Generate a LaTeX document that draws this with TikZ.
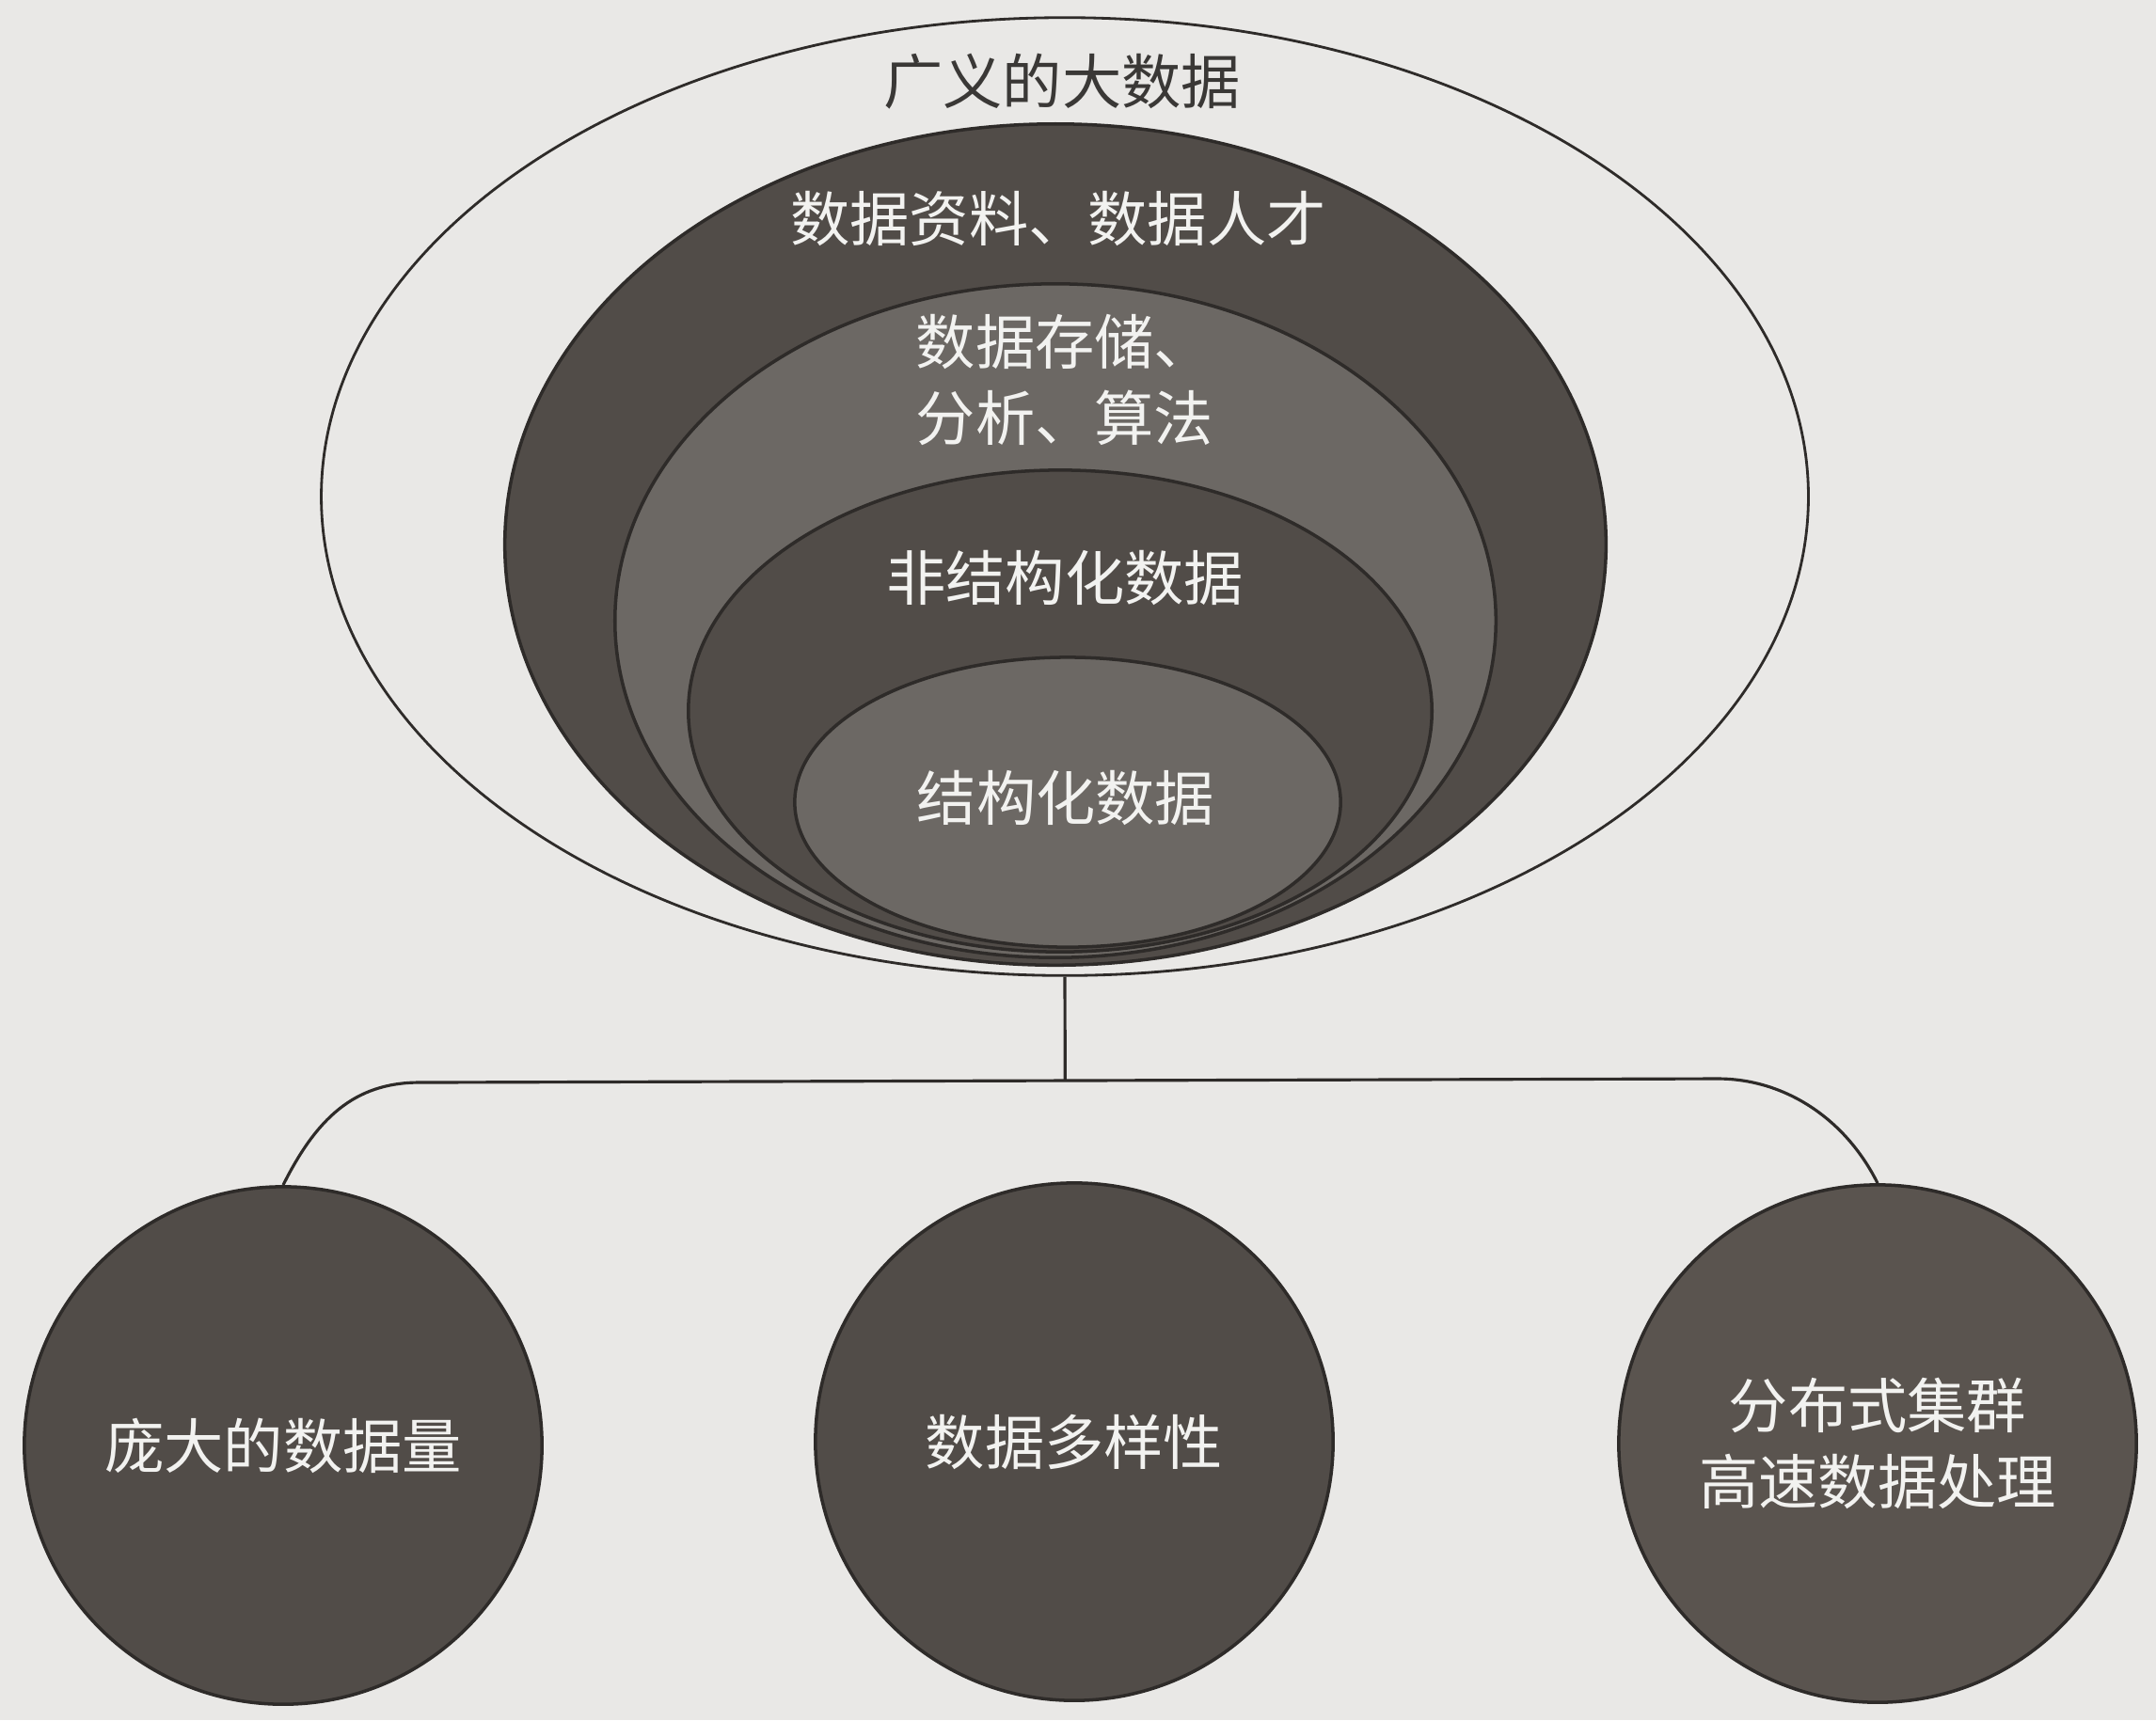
\documentclass[tikz,border=0pt]{standalone}
\usepackage{fontspec}
\newfontfamily\cjk{Noto Sans CJK SC}
\usepackage{tikz}
\usetikzlibrary{calc, positioning, shapes.geometric}

\definecolor{paper}{HTML}{E9E8E6}
\definecolor{inkdark}{HTML}{514C48}
\definecolor{inklight}{HTML}{6C6864}
\definecolor{inkbrown}{HTML}{5A544F}
\definecolor{rim}{HTML}{2E2B29}
\definecolor{chalk}{HTML}{F2F2F0}
\definecolor{pencil}{HTML}{3A3836}

\tikzset{
  layer/.style = {ellipse, draw = rim, line width = 1pt, inner sep = 0pt},
  ball/.style = {circle, draw = rim, line width = 1pt, fill = inkdark, minimum size = 5.5cm,
    inner sep = 0pt, align = center, text = chalk},
  tag/.style = {text = chalk, align = center},
  wire/.style = {draw = rim, line width = 0.9pt},
}

\begin{document}
\begin{tikzpicture}[x = 0.01cm, y = -0.01cm, font = \cjk\fontsize{18}{23}\selectfont]
			\def\W{2292};
			\def\H{1829};

			\fill [paper] (0,0) rectangle (\W,\H);
			\useasboundingbox (0,0) rectangle (\W,\H);

			% nested layers of big data
			\begin{scope}
				\node [layer, line width = 0.8pt, minimum width = 15.8cm, minimum height = 10.18cm] (broad) at (1132,528) {};
				\node [layer, fill = inkdark, minimum width = 11.7cm, minimum height = 8.94cm] (talent) at (1122,579) {};
				\node [layer, fill = inklight, minimum width = 9.36cm, minimum height = 7.16cm] (algo) at (1122,660) {};
				\node [layer, fill = inkdark, minimum width = 7.9cm, minimum height = 5.12cm] (unstr) at (1127,756) {};
				\node [layer, fill = inklight, minimum width = 5.8cm, minimum height = 3.08cm] (struct) at (1135,853) {};
			\end{scope}

			\begin{scope}
				\node [text = pencil] (title) at (1129,87) {广义的大数据};
				\node [tag] (talentlbl) at (1125,232) {数据资料、数据人才};
				\node [tag] (algolbl) at (1132,404) {数据存储、\\分析、算法};
				\node [tag] (unstrlbl) at (1132,614) {非结构化数据};
				\node [tag] (structlbl) at (1133,848) {结构化数据};
			\end{scope}

			% three features
			\begin{scope}
				\node [ball] (vol) at (301,1537) {庞大的数据量};
				\node [ball] (var) at (1142,1533) {数据多样性};
				\node [ball, fill = inkbrown] (spd) at (1996,1535) {分布式集群\\高速数据处理};
			\end{scope}

			\coordinate (railL) at (446,1151);
			\coordinate (railR) at (1826,1147);
			\draw [wire] (broad.south) -- ($(railL)!(broad.south)!(railR)$);
			\draw [wire] (vol.north) .. controls +(35,-70) and +(-70,0) .. (railL) -- (railR)
				.. controls +(70,0) and +(-35,-70) .. (spd.north);
		\end{tikzpicture}
\end{document}
